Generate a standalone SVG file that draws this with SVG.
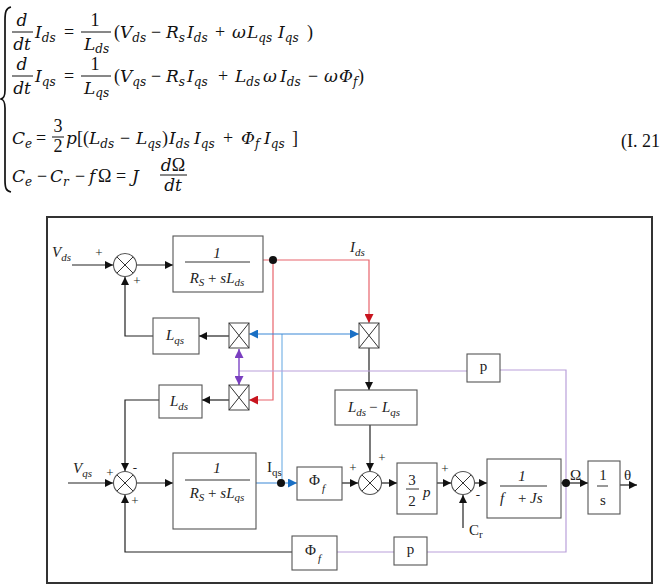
<svg xmlns="http://www.w3.org/2000/svg" width="661" height="586" viewBox="0 0 661 586">
<defs>
<style>
.eq{font-family:"DejaVu Serif",serif;font-style:italic;font-size:17px;fill:#111}
.op{font-family:"Liberation Serif",serif;font-style:normal;font-size:18px}
.sb{font-size:12px}
.fr{stroke:#111;stroke-width:1}
.bx{fill:#fff;stroke:#555;stroke-width:1.1}
.ln{fill:none;stroke:#222;stroke-width:1.2}
.rd{fill:none;stroke:#e8646c;stroke-width:1.2}
.bl{fill:none;stroke:#3a88d6;stroke-width:1.2}
.bl2{fill:none;stroke:#7ab4e6;stroke-width:1.2}
.pu{fill:none;stroke:#b9a0da;stroke-width:1.2}
.pu2{fill:none;stroke:#8450c8;stroke-width:1.5}
.t{font-family:"Liberation Serif",serif;font-style:italic;font-size:15px;fill:#222}
.tr{font-family:"Liberation Serif",serif;font-size:15px;fill:#222}
.up{font-style:normal}
.sg{font-family:"Liberation Serif",serif;font-size:13px;fill:#222}
.s11{font-size:11px}
.x{stroke:#333;stroke-width:1;fill:none}
.bar{stroke:#333;stroke-width:1}
</style>
<marker id="ak" viewBox="0 0 10 10" refX="10" refY="5" markerWidth="8" markerHeight="8" markerUnits="userSpaceOnUse" orient="auto"><path d="M0,0L10,5L0,10z" fill="#111"/></marker>
<marker id="ar" viewBox="0 0 10 10" refX="10" refY="5" markerWidth="9" markerHeight="9" markerUnits="userSpaceOnUse" orient="auto"><path d="M0,0L10,5L0,10z" fill="#c8141e"/></marker>
<marker id="ab" viewBox="0 0 10 10" refX="10" refY="5" markerWidth="9" markerHeight="9" markerUnits="userSpaceOnUse" orient="auto"><path d="M0,0L10,5L0,10z" fill="#1a6fc4"/></marker>
<marker id="ap" viewBox="0 0 10 10" refX="10" refY="5" markerWidth="9" markerHeight="9" markerUnits="userSpaceOnUse" orient="auto-start-reverse"><path d="M0,0L10,5L0,10z" fill="#7a3fc0"/></marker>
</defs>
<rect width="661" height="586" fill="#fff"/>

<g id="equations">
<path d="M11,7 C6,8 5,12 5,20 L5,90 C5,96 4,98 1,99 C4,100 5,102 5,108 L5,180 C5,188 6,191 11,192" fill="none" stroke="#111" stroke-width="1.7"/>
<!-- line 1 -->
<text class="eq" x="22" y="26" text-anchor="middle">d</text>
<line class="fr" x1="12" y1="32" x2="33" y2="32"/>
<text class="eq" x="22" y="50" text-anchor="middle">dt</text>
<text class="eq" x="95" y="26" text-anchor="middle"><tspan class="op">1</tspan></text>
<line class="fr" x1="81" y1="32" x2="111" y2="32"/>
<text class="eq" y="50"><tspan x="84">L</tspan><tspan class="sb" dy="3">ds</tspan></text>
<text class="eq" y="38"><tspan x="35">I</tspan><tspan class="sb" dy="4">ds</tspan><tspan class="op" x="64" dy="-4">=</tspan><tspan class="op" x="114">(</tspan><tspan x="120">V</tspan><tspan class="sb" dy="4">ds</tspan><tspan class="op" x="151" dy="-4">−</tspan><tspan x="166">R</tspan><tspan class="sb" dy="4">s</tspan><tspan x="187" dy="-4">I</tspan><tspan class="sb" dy="4">ds</tspan><tspan class="op" x="215" dy="-4">+</tspan><tspan x="232">ω</tspan><tspan x="247">L</tspan><tspan class="sb" dy="4">qs</tspan><tspan x="278" dy="-4">I</tspan><tspan class="sb" dy="4">qs</tspan><tspan class="op" x="307" dy="-4">)</tspan></text>
<!-- line 2 -->
<text class="eq" x="22" y="70" text-anchor="middle">d</text>
<line class="fr" x1="12" y1="76" x2="33" y2="76"/>
<text class="eq" x="22" y="94" text-anchor="middle">dt</text>
<text class="eq" x="95" y="70" text-anchor="middle"><tspan class="op">1</tspan></text>
<line class="fr" x1="81" y1="76" x2="111" y2="76"/>
<text class="eq" y="94"><tspan x="84">L</tspan><tspan class="sb" dy="3">qs</tspan></text>
<text class="eq" y="82"><tspan x="35">I</tspan><tspan class="sb" dy="4">qs</tspan><tspan class="op" x="64" dy="-4">=</tspan><tspan class="op" x="114">(</tspan><tspan x="120">V</tspan><tspan class="sb" dy="4">qs</tspan><tspan class="op" x="151" dy="-4">−</tspan><tspan x="166">R</tspan><tspan class="sb" dy="4">s</tspan><tspan x="187" dy="-4">I</tspan><tspan class="sb" dy="4">qs</tspan><tspan class="op" x="218" dy="-4">+</tspan><tspan x="235">L</tspan><tspan class="sb" dy="4">ds</tspan><tspan x="263" dy="-4">ω</tspan><tspan x="280">I</tspan><tspan class="sb" dy="4">ds</tspan><tspan class="op" x="308" dy="-4">−</tspan><tspan x="324">ω</tspan><tspan x="339">Φ</tspan><tspan class="sb" dy="4">f</tspan><tspan class="op" x="358" dy="-4">)</tspan></text>
<!-- line 3 -->
<text class="eq" x="58" y="132" text-anchor="middle"><tspan class="op" font-size="14">3</tspan></text>
<line class="fr" x1="52" y1="137" x2="64" y2="137"/>
<text class="eq" x="58" y="152" text-anchor="middle"><tspan class="op" font-size="14">2</tspan></text>
<text class="eq" y="144"><tspan x="12">C</tspan><tspan class="sb" dy="4">e</tspan><tspan class="op" x="36" dy="-4">=</tspan><tspan x="66">p</tspan><tspan class="op" x="77">[</tspan><tspan class="op" x="83">(</tspan><tspan x="89">L</tspan><tspan class="sb" dy="4">ds</tspan><tspan class="op" x="120" dy="-4">−</tspan><tspan x="136">L</tspan><tspan class="sb" dy="4">qs</tspan><tspan class="op" x="162" dy="-4">)</tspan><tspan x="169">I</tspan><tspan class="sb" dy="4">ds</tspan><tspan x="194" dy="-4">I</tspan><tspan class="sb" dy="4">qs</tspan><tspan class="op" x="223" dy="-4">+</tspan><tspan x="241">Φ</tspan><tspan class="sb" dy="4">f</tspan><tspan x="264" dy="-4">I</tspan><tspan class="sb" dy="4">qs</tspan><tspan class="op" x="292" dy="-4">]</tspan></text>
<!-- line 4 -->
<text class="eq" y="182"><tspan x="12">C</tspan><tspan class="sb" dy="4">e</tspan><tspan class="op" x="37" dy="-4">−</tspan><tspan x="50">C</tspan><tspan class="sb" dy="4">r</tspan><tspan class="op" x="75" dy="-4">−</tspan><tspan x="89">f</tspan><tspan class="op" x="98">Ω</tspan><tspan class="op" x="116">=</tspan><tspan x="132">J</tspan></text>
<text class="eq" x="173" y="171" text-anchor="middle">d<tspan class="op">Ω</tspan></text>
<line class="fr" x1="160" y1="175" x2="187" y2="175"/>
<text class="eq" x="173" y="191" text-anchor="middle">dt</text>
<text class="eq" x="621" y="147"><tspan class="op" font-size="17">(I. 21</tspan></text>
</g>

<rect x="47" y="217" width="605" height="366" fill="none" stroke="#333" stroke-width="2"/>

<g id="connectors">
<path class="ln" d="M72,265H113" marker-end="url(#ak)"/>
<path class="ln" d="M137,265H173" marker-end="url(#ak)"/>
<path class="ln" d="M153,336H125V277" marker-end="url(#ak)"/>
<path class="ln" d="M229,336H199" marker-end="url(#ak)"/>
<path class="ln" d="M229,400H202" marker-end="url(#ak)"/>
<path class="ln" d="M159,400H125V471" marker-end="url(#ak)"/>
<path class="ln" d="M369,348V390" marker-end="url(#ak)"/>
<path class="ln" d="M370,425V471" marker-end="url(#ak)"/>
<path class="ln" d="M68,483H113" marker-end="url(#ak)"/>
<path class="ln" d="M137,483H173" marker-end="url(#ak)"/>
<path class="ln" d="M342,483H358" marker-end="url(#ak)"/>
<path class="ln" d="M382,483H397" marker-end="url(#ak)"/>
<path class="ln" d="M437,483H451" marker-end="url(#ak)"/>
<path class="ln" d="M463,528V495" marker-end="url(#ak)"/>
<path class="ln" d="M475,483H487" marker-end="url(#ak)"/>
<path class="ln" d="M561,483H588" marker-end="url(#ak)"/>
<path class="ln" d="M620,485H637" marker-end="url(#ak)"/>
<path class="ln" d="M292,552H125V495" stroke="#444" marker-end="url(#ak)"/>
<path class="rd" d="M263,260H369V323" marker-end="url(#ar)"/>
<path class="rd" d="M273,260V400H249" marker-end="url(#ar)"/>
<path class="bl2" d="M282,483V334"/>
<path class="bl" d="M282,334H249" marker-end="url(#ab)"/>
<path class="bl" d="M282,334H359" marker-end="url(#ab)"/>
<path class="bl" d="M256,483H297" marker-end="url(#ab)"/>
<path class="pu" d="M239,371H467"/>
<path class="pu" d="M500,370H566V552H427"/>
<path class="pu" d="M394,552H337"/>
<path class="pu2" d="M239,349V385" marker-start="url(#ap)" marker-end="url(#ap)"/>
<circle cx="273" cy="260" r="4" fill="#111"/>
<circle cx="281" cy="483" r="4" fill="#111"/>
<circle cx="566" cy="483" r="4" fill="#111"/>
</g>

<g id="labels">
<text class="t" y="257"><tspan x="52">V</tspan><tspan class="s11" dy="4">ds</tspan></text>
<text class="t" y="473"><tspan x="73">V</tspan><tspan class="s11" dy="4">qs</tspan></text>
<text class="t" y="252"><tspan x="350">I</tspan><tspan class="s11" dy="4">ds</tspan></text>
<text class="tr" y="472"><tspan x="267">I</tspan><tspan class="s11" dy="4">qs</tspan></text>
<text class="tr" x="570" y="480">Ω</text>
<text class="tr" x="624" y="480">θ</text>
<text class="tr" y="535" font-size="14"><tspan x="469">C</tspan><tspan class="s11" dy="3">r</tspan></text>
<text class="sg" x="99" y="257" text-anchor="middle">+</text>
<text class="sg" x="137" y="285" text-anchor="middle">+</text>
<text class="sg" x="110" y="477" text-anchor="middle">+</text>
<text class="sg" x="135" y="472" text-anchor="middle">-</text>
<text class="sg" x="135" y="505" text-anchor="middle">+</text>
<text class="sg" x="353" y="472" text-anchor="middle">+</text>
<text class="sg" x="382" y="462" text-anchor="middle">+</text>
<text class="sg" x="445" y="473" text-anchor="middle">+</text>
<text class="sg" x="478" y="499" text-anchor="middle">-</text>
</g>

<g id="sum1"><circle cx="125" cy="265" r="11.5" class="bx"/><path class="x" d="M117,257L133,273M133,257L117,273"/></g>
<g id="sum2"><circle cx="125" cy="483" r="11.5" class="bx"/><path class="x" d="M117,475L133,491M133,475L117,491"/></g>
<g id="sum3"><circle cx="370" cy="483" r="11.5" class="bx"/><path class="x" d="M362,475L378,491M378,475L362,491"/></g>
<g id="sum4"><circle cx="463" cy="483" r="11.5" class="bx"/><path class="x" d="M455,475L471,491M471,475L455,491"/></g>

<g id="mult1"><rect class="bx" x="359" y="323" width="20" height="25"/><path class="x" d="M359,323L379,348M379,323L359,348"/></g>
<g id="mult2"><rect class="bx" x="229" y="323" width="20" height="25"/><path class="x" d="M229,323L249,348M249,323L229,348"/></g>
<g id="mult3"><rect class="bx" x="229" y="385" width="20" height="25"/><path class="x" d="M229,385L249,410M249,385L229,410"/></g>

<g id="box-d">
<rect class="bx" x="173" y="236" width="90" height="56"/>
<text class="t" x="217" y="258" text-anchor="middle">1</text>
<line class="bar" x1="185" y1="262" x2="250" y2="262"/>
<text class="t" x="217" y="283" text-anchor="middle">R<tspan class="s11" dy="3">S</tspan><tspan dy="-3" class="up"> + </tspan>sL<tspan class="s11" dy="3">ds</tspan></text>
</g>
<g id="box-q">
<rect class="bx" x="173" y="453" width="83" height="76"/>
<text class="t" x="217" y="473" text-anchor="middle">1</text>
<line class="bar" x1="185" y1="480" x2="250" y2="480"/>
<text class="t" x="217" y="498" text-anchor="middle">R<tspan class="s11" dy="3">S</tspan><tspan dy="-3" class="up"> + </tspan>sL<tspan class="s11" dy="3">qs</tspan></text>
</g>
<g id="Lqs"><rect class="bx" x="153" y="318" width="46" height="36"/><text class="t" font-size="16" y="340"><tspan x="166">L</tspan><tspan class="s11" dy="4">qs</tspan></text></g>
<g id="Lds"><rect class="bx" x="159" y="385" width="43" height="33"/><text class="t" font-size="16" y="406"><tspan x="170">L</tspan><tspan class="s11" dy="4">ds</tspan></text></g>
<g id="LdsLqs"><rect class="bx" x="335" y="390" width="82" height="35"/><text class="t" y="412"><tspan x="348">L</tspan><tspan class="s11" dy="4">ds</tspan><tspan class="up" x="369" dy="-4">−</tspan><tspan x="382">L</tspan><tspan class="s11" dy="4">qs</tspan></text></g>
<g id="phif1"><rect class="bx" x="297" y="467" width="45" height="33"/><text class="tr" y="485"><tspan x="309">Φ</tspan><tspan class="s11" font-style="italic" x="322" dy="7">f</tspan></text></g>
<g id="gain32p"><rect class="bx" x="397" y="463" width="40" height="51"/>
<text class="tr" x="412" y="485" text-anchor="middle">3</text>
<line class="bar" x1="406" y1="489" x2="419" y2="489"/>
<text class="tr" x="412" y="506" text-anchor="middle">2</text>
<text class="t" x="423" y="497">p</text></g>
<g id="pTop"><rect class="bx" x="467" y="354" width="33" height="28"/><text class="tr" font-size="17" x="483.5" y="371" text-anchor="middle">p</text></g>
<g id="mech"><rect class="bx" x="487" y="459" width="74" height="59"/>
<text class="t" x="522" y="481" text-anchor="middle">1</text>
<line class="bar" x1="500" y1="486" x2="547" y2="486"/>
<text class="t" y="503"><tspan x="500">f</tspan><tspan class="up" x="518">+</tspan><tspan x="530">Js</tspan></text></g>
<g id="integ"><rect class="bx" x="588" y="461" width="32" height="53"/>
<text class="tr" x="603" y="480" text-anchor="middle">1</text>
<line class="bar" x1="597" y1="486" x2="608" y2="486"/>
<text class="tr" x="603" y="505" text-anchor="middle">s</text></g>
<g id="phif2"><rect class="bx" x="292" y="536" width="45" height="34"/><text class="tr" y="555"><tspan x="305">Φ</tspan><tspan class="s11" font-style="italic" x="318" dy="7">f</tspan></text></g>
<g id="pBot"><rect class="bx" x="394" y="537" width="33" height="28"/><text class="tr" font-size="17" x="410.5" y="554" text-anchor="middle">p</text></g>
</svg>
